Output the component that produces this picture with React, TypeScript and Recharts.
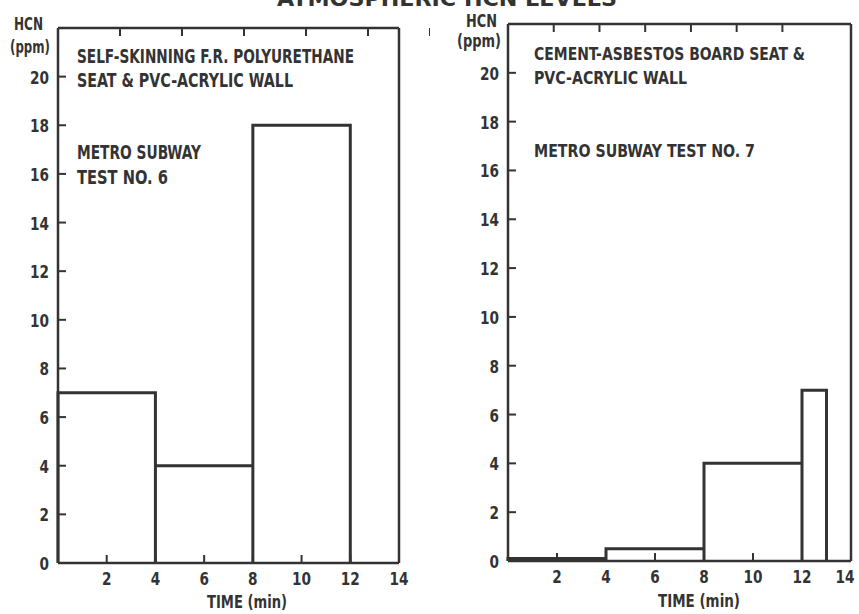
import React from "react";
import { LineChart, Line, XAxis, YAxis } from "recharts";

// Panel 1: self-skinning F.R. polyurethane seat, test no. 6
const BAR_START_6 = [0, 4, 8];
const BAR_END_6 = [4, 8, 12];
const HCN_6 = [7, 4, 18];

// Panel 2: cement-asbestos board seat, test no. 7
const BAR_START_7 = [0, 4, 8, 12];
const BAR_END_7 = [4, 8, 12, 13];
const HCN_7 = [0.1, 0.5, 4, 7];

const X_TICKS = [2, 4, 6, 8, 10, 12, 14];
const X_TICKS_TOP = [2, 4, 6, 8, 10, 12];
const Y_TICKS = [0, 2, 4, 6, 8, 10, 12, 14, 16, 18, 20];
const Y_TICKS_RIGHT = [2, 4, 6, 8, 10, 12, 14, 16, 18, 20];

const INK = "#333333";
const FONT = '"Liberation Sans Narrow", "DejaVu Sans Condensed", "Arial Narrow", sans-serif';
const TICK_LEN = 8;
const DIGIT_W = 9.5;

const textStyle = { fontFamily: FONT, fontWeight: 700, fontSize: 19, fill: INK };
const noteStyle = { ...textStyle, fontSize: 18 };
const tickStyle = { ...textStyle, fontSize: 18 };
const unitStyle = { ...textStyle, fontSize: 17 };

// outline of adjacent bars as one polyline: up, across, down for each bar
function outline(starts: number[], ends: number[], values: number[]) {
  const pts: { x: number; y: number }[] = [];
  starts.forEach((s, i) => {
    pts.push({ x: s, y: 0 }, { x: s, y: values[i] }, { x: ends[i], y: values[i] }, { x: ends[i], y: 0 });
  });
  return pts;
}

const LeftTick = (props: any) => {
  const { x, y, payload } = props;
  const label = String(payload.value);
  return (
    <g>
      {payload.value !== 0 && (
        <line x1={x} y1={y} x2={x + TICK_LEN} y2={y} stroke={INK} strokeWidth={2} />
      )}
      <text
        x={x - 9}
        y={y}
        dy={7}
        textAnchor="end"
        textLength={label.length * DIGIT_W}
        lengthAdjust="spacingAndGlyphs"
        style={tickStyle}
      >
        {label}
      </text>
    </g>
  );
};

const RightTick = (props: any) => {
  const { x, y } = props;
  return <line x1={x} y1={y} x2={x - TICK_LEN} y2={y} stroke={INK} strokeWidth={2} />;
};

const TopTick = (props: any) => {
  const { x, y } = props;
  return <line x1={x} y1={y} x2={x} y2={y + TICK_LEN} stroke={INK} strokeWidth={2} />;
};

const BottomTick = (props: any) => {
  const { x, y, payload } = props;
  const label = String(payload.value);
  return (
    <g>
      {payload.value < 14 && (
        <line x1={x} y1={y} x2={x} y2={y - TICK_LEN} stroke={INK} strokeWidth={2} />
      )}
      <text
        x={Math.min(x, 415)}
        y={y + 22}
        textAnchor="middle"
        textLength={label.length * DIGIT_W}
        lengthAdjust="spacingAndGlyphs"
        style={tickStyle}
      >
        {label}
      </text>
    </g>
  );
};

type PanelProps = {
  data: { x: number; y: number }[];
  width: number;
  left: number;
  right: number;
  top: number;
  bottom: number;
};

function Panel({ data, width, left, right, top, bottom }: PanelProps) {
  const axisLine = { stroke: INK, strokeWidth: 2.5 };
  return (
    <LineChart width={width} height={614} data={data} margin={{ top: 0, right: 0, bottom: 0, left: 0 }}>
      <XAxis
        dataKey="x"
        type="number"
        domain={[0, 14]}
        ticks={X_TICKS}
        interval={0}
        height={bottom}
        tickSize={0}
        tickMargin={0}
        axisLine={axisLine}
        tickLine={false}
        tick={<BottomTick />}
      />
      <XAxis
        xAxisId="top"
        orientation="top"
        type="number"
        domain={[0, 14]}
        ticks={X_TICKS_TOP}
        interval={0}
        height={top}
        tickSize={0}
        tickMargin={0}
        axisLine={axisLine}
        tickLine={false}
        tick={<TopTick />}
      />
      <YAxis
        type="number"
        domain={[0, 22]}
        ticks={Y_TICKS}
        interval={0}
        width={left}
        tickSize={0}
        tickMargin={0}
        axisLine={axisLine}
        tickLine={false}
        tick={<LeftTick />}
      />
      <YAxis
        yAxisId="right"
        orientation="right"
        type="number"
        domain={[0, 22]}
        ticks={Y_TICKS_RIGHT}
        interval={0}
        width={right}
        tickSize={0}
        tickMargin={0}
        axisLine={axisLine}
        tickLine={false}
        tick={<RightTick />}
      />
      <Line
        dataKey="y"
        type="linear"
        stroke={INK}
        strokeWidth={3}
        dot={false}
        activeDot={false}
        isAnimationActive={false}
      />
    </LineChart>
  );
}

export default function App() {
  const data6 = outline(BAR_START_6, BAR_END_6, HCN_6);
  const data7 = outline(BAR_START_7, BAR_END_7, HCN_7);
  return (
    <div style={{ position: "absolute", left: 0, top: 0, width: 859, height: 614, background: "#fff" }}>
      <div style={{ position: "absolute", left: 0, top: 0 }}>
        <Panel data={data6} width={430} left={58} right={31} top={28} bottom={51} />
      </div>
      <div style={{ position: "absolute", left: 430, top: 0 }}>
        <Panel data={data7} width={429} left={78} right={8} top={24} bottom={53} />
      </div>
      <svg
        width={859}
        height={614}
        style={{ position: "absolute", left: 0, top: 0, pointerEvents: "none" }}
      >
        <text x={447} y={6} textAnchor="middle" textLength={340} lengthAdjust="spacingAndGlyphs" style={{ ...textStyle, fontSize: 21 }}>
          ATMOSPHERIC HCN LEVELS
        </text>

        <text x={14} y={30} textLength={29} lengthAdjust="spacingAndGlyphs" style={unitStyle}>HCN</text>
        <text x={10} y={53} textLength={40} lengthAdjust="spacingAndGlyphs" style={unitStyle}>(ppm)</text>
        <text x={77} y={63} textLength={277} lengthAdjust="spacingAndGlyphs" style={textStyle}>SELF-SKINNING F.R. POLYURETHANE</text>
        <text x={77} y={87} textLength={216} lengthAdjust="spacingAndGlyphs" style={textStyle}>SEAT &amp; PVC-ACRYLIC WALL</text>
        <text x={77} y={159} textLength={124} lengthAdjust="spacingAndGlyphs" style={textStyle}>METRO SUBWAY</text>
        <text x={77} y={184} textLength={91} lengthAdjust="spacingAndGlyphs" style={textStyle}>TEST NO. 6</text>
        <text x={247} y={608} textAnchor="middle" textLength={80} lengthAdjust="spacingAndGlyphs" style={tickStyle}>TIME (min)</text>

        <text x={466} y={27} textLength={31} lengthAdjust="spacingAndGlyphs" style={unitStyle}>HCN</text>
        <text x={457} y={47} textLength={44} lengthAdjust="spacingAndGlyphs" style={unitStyle}>(ppm)</text>
        <text x={534} y={60} textLength={271} lengthAdjust="spacingAndGlyphs" style={noteStyle}>CEMENT-ASBESTOS BOARD SEAT &amp;</text>
        <text x={534} y={84} textLength={153} lengthAdjust="spacingAndGlyphs" style={noteStyle}>PVC-ACRYLIC WALL</text>
        <text x={534} y={157} textLength={221} lengthAdjust="spacingAndGlyphs" style={noteStyle}>METRO SUBWAY TEST NO. 7</text>
        <text x={699} y={607} textAnchor="middle" textLength={82} lengthAdjust="spacingAndGlyphs" style={tickStyle}>TIME (min)</text>
      </svg>
    </div>
  );
}
